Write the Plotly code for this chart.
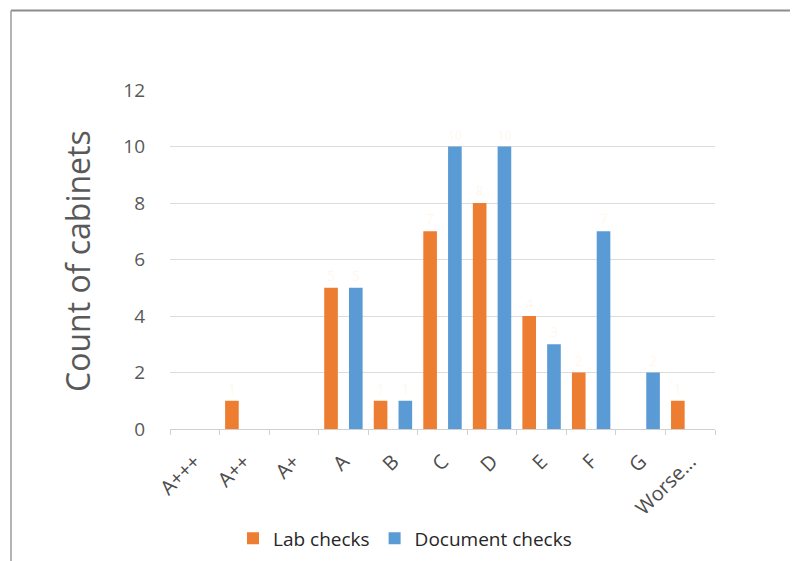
import plotly.graph_objects as go

categories = ["A+++", "A++", "A+", "A", "B", "C", "D", "E", "F", "G", "Worse..."]
lab_checks = [0, 1, 0, 5, 1, 7, 8, 4, 2, 0, 1]
document_checks = [0, 0, 0, 5, 1, 10, 10, 3, 7, 2, 0]
y_ticks = [0, 2, 4, 6, 8, 10, 12]

FONT = "Open Sans"
LABEL_COLOR = "rgba(255,205,120,0.16)"

def labels(vals):
    return [str(v) if v else "" for v in vals]

fig = go.Figure()
fig.add_trace(go.Bar(
    x=categories, y=lab_checks, name="Lab checks",
    marker=dict(color="#ED7D31", line=dict(width=0)),
    text=labels(lab_checks), textposition="outside",
    textfont=dict(color=LABEL_COLOR, size=14, family=FONT),
    cliponaxis=False,
))
fig.add_trace(go.Bar(
    x=categories, y=document_checks, name="Document checks",
    marker=dict(color="#5B9BD5", line=dict(width=0)),
    text=labels(document_checks), textposition="outside",
    textfont=dict(color=LABEL_COLOR, size=14, family=FONT),
    cliponaxis=False,
))

# the page body adds an 8px offset; work in reference coordinates and shift
OFF = 8
W, H = 798, 561
L, R, T, B = 170 - OFF, 798 - (715 - OFF), 90 - OFF, 561 - (431 - OFF)
pw, ph = W - L - R, H - T - B

def px(x):
    return (x - OFF - L) / pw

def py(y):
    return (H - B - (y - OFF)) / ph

fig.update_layout(
    width=W, height=H,
    margin=dict(l=L, r=R, t=T, b=B),
    paper_bgcolor="white", plot_bgcolor="white",
    barmode="group", bargap=0.0, bargroupgap=0.45,
    font=dict(family=FONT, color="#595959"),
    showlegend=True,
    legend=dict(
        orientation="h", x=px(233), xanchor="left", y=py(541), yanchor="middle",
        font=dict(size=19, color="#262626", family=FONT),
        itemwidth=30, traceorder="normal",
    ),
    xaxis=dict(
        type="category", tickson="boundaries", ticks="outside", ticklen=5,
        tickcolor="#d0d0d0", showline=True, linecolor="#d0d0d0", linewidth=1,
        tickangle=-45, tickfont=dict(size=20, color="#4d4d4d"),
        ticklabelstandoff=12, showgrid=False,
    ),
    yaxis=dict(
        range=[0, 12], tickvals=y_ticks, showgrid=True, gridcolor="#dcdcdc",
        gridwidth=1, zeroline=False, showline=False, ticks="",
        tickfont=dict(size=19, color="#595959"), ticklabelstandoff=24,
    ),
    annotations=[dict(
        text="Count of cabinets", xref="paper", yref="paper",
        x=px(78), y=py(262), showarrow=False, textangle=-90,
        font=dict(size=32, color="#595959", family=FONT),
        xanchor="center", yanchor="middle",
    )],
    shapes=[
        dict(type="line", xref="paper", yref="paper", x0=px(11), x1=px(806),
             y0=py(10), y1=py(10), line=dict(color="#8c8c8c", width=2)),
        dict(type="line", xref="paper", yref="paper", x0=px(11), x1=px(11),
             y0=py(10), y1=py(570), line=dict(color="#9a9a9a", width=1.5)),
        dict(type="line", xref="paper", yref="paper", x0=px(796), x1=px(796),
             y0=py(10), y1=py(570), line=dict(color="#e6e6e6", width=1)),
    ],
)

fig.write_html("out.html")
